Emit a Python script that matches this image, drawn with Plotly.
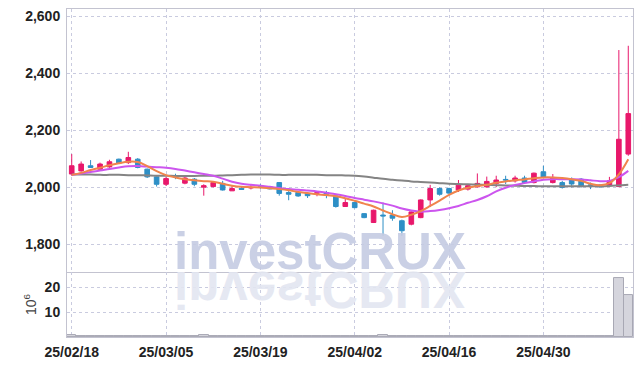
import plotly.graph_objects as go

dates = [
    "25/02/18", "25/02/19", "25/02/20", "25/02/21", "25/02/24", "25/02/25", "25/02/26", "25/02/27", "25/02/28", "25/03/04",
    "25/03/05", "25/03/06", "25/03/07", "25/03/10", "25/03/11", "25/03/12", "25/03/13", "25/03/14", "25/03/17", "25/03/18",
    "25/03/19", "25/03/20", "25/03/21", "25/03/24", "25/03/25", "25/03/26", "25/03/27", "25/03/28", "25/03/31", "25/04/01",
    "25/04/02", "25/04/03", "25/04/04", "25/04/07", "25/04/08", "25/04/09", "25/04/10", "25/04/11", "25/04/14", "25/04/15",
    "25/04/16", "25/04/17", "25/04/18", "25/04/21", "25/04/22", "25/04/23", "25/04/24", "25/04/25", "25/04/28", "25/04/29",
    "25/04/30", "25/05/02", "25/05/07", "25/05/08", "25/05/09", "25/05/12", "25/05/13", "25/05/14", "25/05/15", "25/05/16",
]

open_ = [2046, 2057, 2075, 2063, 2071, 2098, 2086, 2098, 2063, 2036,
         2010, 2040, 2014, 2028, 2000, 2002, 2013, 1987, 1996, 1997,
         2001, 2001, 2016, 1981, 1981, 1978, 1979, 1981, 1969, 1932,
         1946, 1907, 1876, 1902, 1902, 1882, 1870, 1893, 1955, 1995,
         1995, 1990, 1993, 2001, 2001, 2013, 2027, 2022, 2032, 2016,
         2054, 2016, 2016, 2025, 2028, 2008, 2007, 2005, 2002, 2116]
high = [2116, 2090, 2095, 2086, 2096, 2100, 2124, 2102, 2065, 2038,
        2036, 2047, 2039, 2032, 2010, 2021, 2022, 2006, 2004, 2008,
        2010, 2004, 2018, 1986, 1984, 1981, 1986, 1987, 1972, 1961,
        1948, 1909, 1921, 1946, 1919, 1886, 1915, 1957, 2008, 1999,
        1998, 2025, 2008, 2048, 2037, 2040, 2040, 2040, 2040, 2051,
        2075, 2046, 2022, 2034, 2032, 2016, 2011, 2036, 2481, 2496]
low = [2040, 2054, 2068, 2057, 2068, 2082, 2081, 2066, 2032, 2002,
       2004, 2028, 2010, 2003, 1970, 1999, 1988, 1987, 1990, 1992,
       1994, 1992, 1970, 1954, 1966, 1962, 1968, 1961, 1928, 1932,
       1926, 1891, 1874, 1829, 1882, 1829, 1866, 1891, 1930, 1970,
       1976, 1983, 1988, 1999, 1998, 2000, 2011, 2016, 2011, 2013,
       2032, 2013, 1995, 1999, 1999, 1993, 1998, 2001, 2000, 2110]
close = [2075, 2081, 2069, 2081, 2089, 2084, 2104, 2069, 2036, 2010,
         2030, 2035, 2032, 2010, 2005, 2016, 1990, 1995, 1992, 1999,
         1999, 1994, 1978, 1975, 1969, 1970, 1980, 1975, 1932, 1946,
         1928, 1893, 1919, 1899, 1891, 1847, 1913, 1955, 1995, 1975,
         1979, 2007, 2005, 2013, 2020, 2025, 2025, 2032, 2016, 2049,
         2034, 2034, 1999, 2011, 2002, 2005, 2001, 2022, 2168, 2258]

ma5 = [2043, 2050, 2060, 2068, 2077, 2084, 2089, 2088, 2074, 2056,
       2042, 2034, 2028, 2024, 2021, 2019, 2012, 2005, 2001, 2000,
       1999, 1996, 1993, 1989, 1983, 1979, 1975, 1972, 1968, 1961,
       1952, 1942, 1932, 1918, 1905, 1895, 1903, 1916, 1934, 1953,
       1973, 1988, 1998, 2004, 2008, 2015, 2020, 2024, 2027, 2031,
       2034, 2034, 2032, 2028, 2022, 2012, 2007, 2014, 2045, 2098]
ma20 = [2043, 2048, 2053, 2058, 2064, 2069, 2073, 2074, 2072, 2070,
        2068, 2064, 2058, 2052, 2046, 2040, 2030, 2019, 2012, 2008,
        2005, 2001, 1997, 1993, 1991, 1988, 1985, 1980, 1975, 1969,
        1962, 1956, 1950, 1943, 1935, 1925, 1918, 1914, 1916, 1920,
        1926, 1934, 1945, 1955, 1968, 1985, 1998, 2008, 2014, 2020,
        2026, 2028, 2028, 2028, 2027, 2024, 2021, 2022, 2035, 2057]
ma60 = [2044, 2044, 2044, 2043, 2043, 2043, 2042, 2042, 2041, 2040,
        2040, 2039, 2039, 2039, 2040, 2040, 2041, 2042, 2043, 2044,
        2044, 2044, 2043, 2043, 2043, 2043, 2043, 2042, 2042, 2041,
        2040, 2037, 2033, 2029, 2026, 2023, 2020, 2018, 2016, 2014,
        2012, 2011, 2010, 2009, 2008, 2007, 2006, 2005, 2004, 2004,
        2003, 2003, 2003, 2003, 2003, 2003, 2003, 2004, 2006, 2008]

volume = [0.6, 0.3, 0.3, 0.3, 0.3, 0.3, 0.4, 0.3, 0.3, 0.3,
          0.3, 0.3, 0.3, 0.3, 0.6, 0.3, 0.3, 0.3, 0.3, 0.3,
          0.3, 0.3, 0.3, 0.3, 0.3, 0.3, 0.3, 0.3, 0.4, 0.3,
          0.3, 0.3, 0.3, 0.6, 0.3, 0.4, 0.3, 0.3, 0.4, 0.3,
          0.3, 0.3, 0.3, 0.3, 0.3, 0.3, 0.3, 0.3, 0.3, 0.3,
          0.3, 0.3, 0.3, 0.3, 0.3, 0.3, 0.3, 0.3, 23.5, 16.8]

price_ticks = [1800, 2000, 2200, 2400, 2600]
volume_ticks = [10, 20]
date_ticks = dates[::10]

UP = "#e8186b"
DOWN = "#2e8fc6"
GRID = "#c9cbdf"
FRAME = "#c3c3d0"
TICKFONT = dict(family="Liberation Sans Narrow, Liberation Sans, Arial", size=14, color="#222222", weight="bold")
WMFONT = "Liberation Sans, Arial"

fig = go.Figure()

fig.add_trace(go.Scatter(x=dates, y=ma60, mode="lines", line=dict(color="#848484", width=2, shape="spline"),
                         xaxis="x", yaxis="y", hoverinfo="skip", showlegend=False))
fig.add_trace(go.Candlestick(
    x=dates, open=open_, high=high, low=low, close=close,
    increasing=dict(line=dict(color=UP, width=1), fillcolor=UP),
    decreasing=dict(line=dict(color=DOWN, width=1), fillcolor=DOWN),
    whiskerwidth=0, xaxis="x", yaxis="y", showlegend=False))
fig.add_trace(go.Scatter(x=dates, y=ma20, mode="lines", line=dict(color="#cc55ee", width=2, shape="spline"),
                         xaxis="x", yaxis="y", hoverinfo="skip", showlegend=False))
fig.add_trace(go.Scatter(x=dates, y=ma5, mode="lines", line=dict(color="#f0844c", width=2, shape="spline"),
                         xaxis="x", yaxis="y", hoverinfo="skip", showlegend=False))

fig.add_trace(go.Bar(x=dates, y=volume, marker=dict(color="#d5d5dd", line=dict(color="#a8a8b4", width=1)),
                     xaxis="x2", yaxis="y2", showlegend=False))

split = 0.198
fig.update_layout(
    width=642, height=366,
    margin=dict(l=67, r=9, t=9, b=29, autoexpand=False),
    paper_bgcolor="white", plot_bgcolor="white",
    bargap=0,
    xaxis=dict(domain=[0, 1], anchor="y", type="category", categoryorder="array", categoryarray=dates,
               range=[-0.5, len(dates) - 0.5], rangeslider=dict(visible=False), automargin=False,
               tickvals=date_ticks, showticklabels=False, ticks="",
               showgrid=True, gridcolor=GRID, griddash="dot", gridwidth=1,
               showline=True, linecolor=FRAME, linewidth=1, mirror=True, zeroline=False),
    xaxis2=dict(domain=[0, 1], anchor="y2", type="category", categoryorder="array", categoryarray=dates,
                range=[-0.5, len(dates) - 0.5], matches="x", automargin=False,
                tickvals=date_ticks, ticktext=date_ticks, ticks="", tickfont=TICKFONT, ticklabelstandoff=2,
                showgrid=True, gridcolor=GRID, griddash="dot", gridwidth=1,
                showline=True, linecolor=FRAME, linewidth=1, zeroline=False),
    yaxis=dict(domain=[split, 1], anchor="x", range=[1702, 2625], tickvals=price_ticks, automargin=False,
               tickformat=",d", tickfont=TICKFONT, ticks="", ticklabelstandoff=3,
               showgrid=True, gridcolor=GRID, griddash="dot", gridwidth=1,
               showline=True, linecolor=FRAME, linewidth=1, mirror=True, zeroline=False),
    yaxis2=dict(domain=[0, split], anchor="x2", range=[0, 26], tickvals=volume_ticks, automargin=False,
                tickfont=TICKFONT, ticks="", ticklabelstandoff=3,
                title=dict(text="10<sup>6</sup>", font=dict(family="Liberation Sans, Arial", size=14, color="#444444"),
                           standoff=4),
                showgrid=True, gridcolor=GRID, griddash="dot", gridwidth=1,
                showline=True, linecolor=FRAME, linewidth=1, mirror=True, zeroline=False),
    annotations=[
        dict(text="investCRUX", xref="paper", yref="paper", x=0.447, y=0.168, xanchor="center", yanchor="bottom",
             showarrow=False, font=dict(family=WMFONT, size=51, color="#c5cce3", weight="bold"),
             opacity=0.9),
        dict(text="investCRUX", xref="paper", yref="paper", x=0.447, y=0.052, xanchor="center", yanchor="bottom",
             showarrow=False, font=dict(family=WMFONT, size=51, color="#e3e6f1", weight="bold"),
             opacity=0.9),
    ],
)

post = """
document.body.style.margin = '0';
document.body.style.padding = '0';
var gd = document.getElementById('{plot_id}');
function flipReflection() {
  var anns = gd.querySelectorAll('g.annotation');
  if (anns.length < 2) return;
  var t = anns[1].querySelector('text');
  if (!t) return;
  var b = t.getBBox();
  var cy = b.y + b.height / 2;
  t.setAttribute('transform', 'translate(0,' + (2 * cy) + ') scale(1,-1)');
}
flipReflection();
if (gd.on) { gd.on('plotly_afterplot', flipReflection); }
"""

fig.write_html("out.html", post_script=post, config={"displayModeBar": False})
